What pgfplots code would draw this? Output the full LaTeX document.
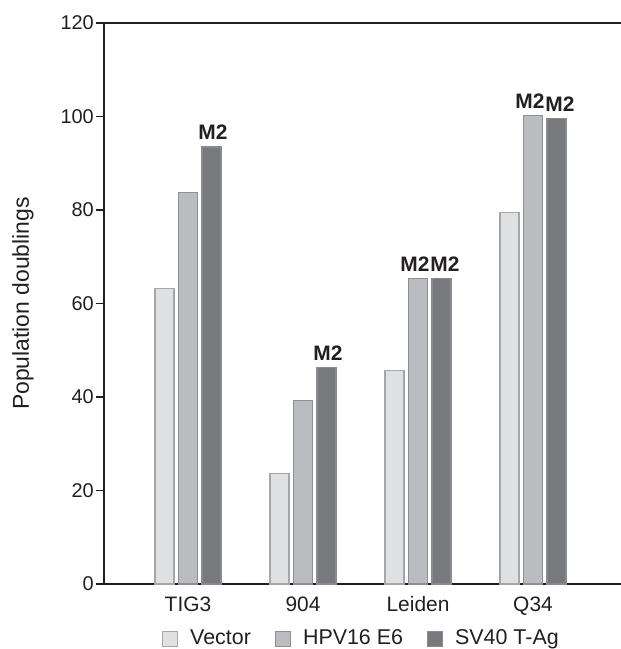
\documentclass[border=0pt]{standalone}
\usepackage{pgfplots}
\pgfplotsset{compat=1.18}
\usepackage{fontspec}
\setmainfont{Liberation Sans}
\definecolor{fVec}{HTML}{DFE0E2}
\definecolor{eVec}{HTML}{A5A6A9}
\definecolor{fHPV}{HTML}{BBBCC0}
\definecolor{eHPV}{HTML}{8E8F93}
\definecolor{fSV}{HTML}{78797D}
\definecolor{eSV}{HTML}{8A8B8F}
\definecolor{axcol}{HTML}{231F20}
\pgfplotsset{
  mybar/.style={ybar, bar width=19bp, line width=1.3bp,
    legend image code/.code={\draw[##1, line width=1.1bp] (0bp,-8.4bp) rectangle (15bp,6.6bp);}},
  m2/.style={nodes near coords, point meta=explicit symbolic,
    nodes near coords style={font=\bfseries\fontsize{21}{25}\selectfont, inner sep=0pt, anchor=base, yshift=7bp, text=axcol}}
}
\begin{document}
\begin{tikzpicture}
\begin{axis}[
  scale only axis, width=517bp, height=561bp,
  xmin=-0.7304, xmax=3.765, ymin=0, ymax=120,
  axis x line=box, axis y line=left,
  axis line style={-, line width=1.3bp, draw=axcol},
  clip=false,
  xtick={0,1,2,3}, xticklabels={TIG3,904,Leiden,Q34},
  xtick style={draw=none},
  ytick={0,20,40,60,80,100,120},
  tick align=outside, major tick length=8bp,
  ytick style={line width=1.3bp, draw=axcol},
  /pgf/number format/assume math mode=true,
  xticklabel style={font=\fontsize{21}{25}\selectfont, text=axcol, anchor=base, inner sep=0pt, yshift=-19bp},
  yticklabel style={font=\fontsize{20}{24}\selectfont, text=axcol, anchor=east, inner sep=0pt, xshift=-2bp},
  ylabel={Population doublings},
  ylabel style={at={(axis description cs:-0.1567,0.5)}, anchor=center, font=\fontsize{23}{27}\selectfont, text=axcol},
  legend columns=3,
  legend style={at={(axis description cs:0.496,-0.0972)}, anchor=center, draw=none, fill=none,
    font=\fontsize{21.5}{25}\selectfont, text=axcol, inner sep=0pt,
    nodes={inner sep=0pt},
    /tikz/every odd column/.append style={column sep=12bp},
    /tikz/every even column/.append style={column sep=24bp}},
]
\addplot[mybar, bar shift=-23.5bp, fill=fVec, draw=eVec]
  coordinates {(0,63.2) (1,23.7) (2,45.6) (3,79.4)};
\addlegendentry{Vector}
\addplot[mybar, bar shift=0bp, fill=fHPV, draw=eHPV, m2, nodes near coords style={xshift=-3bp}]
  coordinates {(0,83.7) [] (1,39.2) [] (2,65.4) [M2] (3,100.2) [M2]};
\addlegendentry{HPV16 E6}
\addplot[mybar, bar shift=23.5bp, fill=fSV, draw=eSV, m2, nodes near coords style={xshift=25bp}]
  coordinates {(0,93.5) [M2] (1,46.3) [M2] (2,65.4) [] (3,99.5) []};
\addlegendentry{SV40 T-Ag}
\addplot[mybar, bar shift=23.5bp, draw=none, fill=none, forget plot, m2, nodes near coords style={xshift=27bp}]
  coordinates {(2,65.4) [M2] (3,99.5) [M2]};
\coordinate (bbSW) at (rel axis cs:-0.20116,-0.11586);
\coordinate (bbNE) at (rel axis cs:1,1.041);
\end{axis}
\pgfresetboundingbox
\path[use as bounding box] (bbSW) rectangle (bbNE);
\end{tikzpicture}
\end{document}
